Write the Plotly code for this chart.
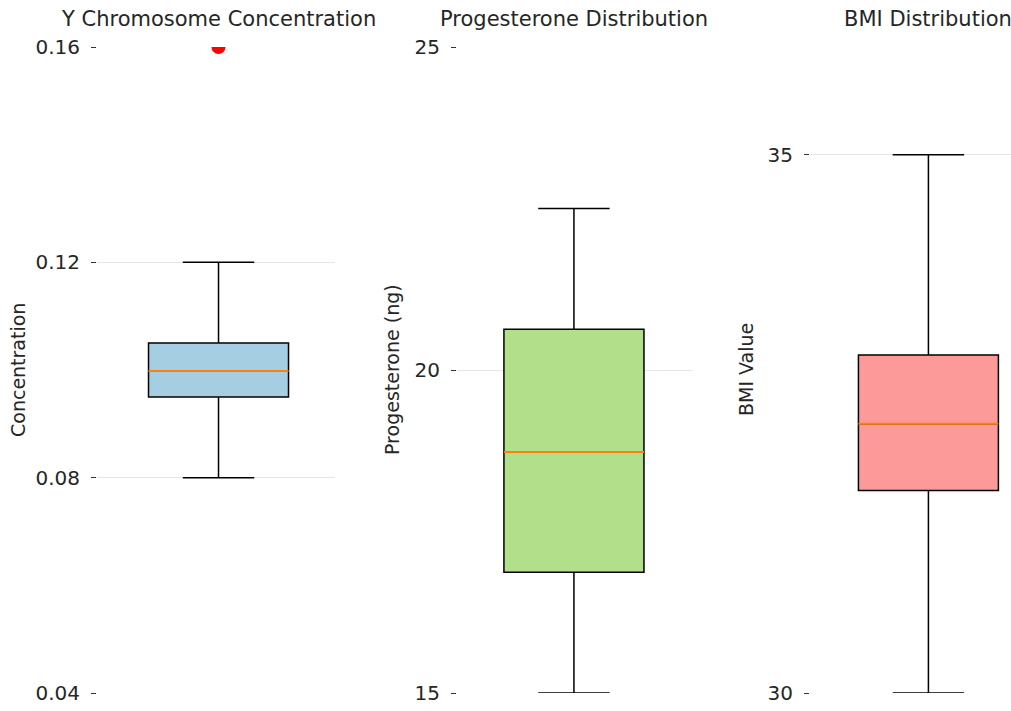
import plotly.graph_objects as go

# Summary statistics for each distribution
panels = ["Y Chromosome Concentration", "Progesterone Distribution", "BMI Distribution"]
axis_labels = ["Concentration", "Progesterone (ng)", "BMI Value"]
lower_whisker = [0.08, 15.0, 30.0]
q1_values = [0.095, 16.87, 31.88]
median_values = [0.0998, 18.73, 32.5]
q3_values = [0.105, 20.63, 33.14]
upper_whisker = [0.12, 22.5, 35.0]
outliers = [[0.16], [], []]

y_ranges = [[0.04, 0.16], [15, 25], [30, 36]]
y_ticks = [[0.04, 0.08, 0.12, 0.16], [15, 20, 25], [30, 35]]
y_ticktext = [["0.04", "0.08", "0.12", "0.16"], ["15", "20", "25"], ["30", "35"]]
fill_colors = ["#a6cee3", "#b2df8a", "#fb9a99"]

W, H = 1011, 711
x_domains = [[97 / W, 335 / W], [457 / W, 692 / W], [810 / W, 1.0]]
x_ranges = [[-0.868, 0.832], [-0.835, 0.843], [-0.846, 0.59]]
label_x = [18, 392, 746]

fig = go.Figure()
for i in range(3):
    xa = "x" if i == 0 else f"x{i + 1}"
    ya = "y" if i == 0 else f"y{i + 1}"
    fig.add_trace(go.Box(
        x=[0], q1=[q1_values[i]], median=[median_values[i]], q3=[q3_values[i]],
        lowerfence=[lower_whisker[i]], upperfence=[upper_whisker[i]],
        width=1, whiskerwidth=0.51, fillcolor=fill_colors[i],
        line=dict(color="black", width=1.5), boxpoints=False,
        xaxis=xa, yaxis=ya, showlegend=False, hoverinfo="skip",
    ))
    # median drawn in orange over the box
    fig.add_trace(go.Scatter(
        x=[-0.5, 0.5], y=[median_values[i], median_values[i]], mode="lines",
        line=dict(color="#ff7f0e", width=2), xaxis=xa, yaxis=ya,
        showlegend=False, hoverinfo="skip",
    ))
    if outliers[i]:
        fig.add_trace(go.Scatter(
            x=[0] * len(outliers[i]), y=outliers[i], mode="markers",
            marker=dict(color="red", size=14, line=dict(width=0)),
            cliponaxis=True, xaxis=xa, yaxis=ya, showlegend=False, hoverinfo="skip",
        ))

    sfx = "" if i == 0 else str(i + 1)
    fig.layout["xaxis" + sfx] = dict(
        domain=x_domains[i], range=x_ranges[i], showgrid=False, zeroline=False,
        showline=False, showticklabels=False, ticks="", anchor=ya, fixedrange=True,
    )
    fig.layout["yaxis" + sfx] = dict(
        domain=[0, 1], range=y_ranges[i], tickvals=y_ticks[i], ticktext=y_ticktext[i],
        showgrid=True, gridcolor="#e6e6e6", gridwidth=1, zeroline=False, showline=False,
        ticks="outside", ticklen=5, tickwidth=1, tickcolor="#333333",
        ticklabelstandoff=7,
        tickfont=dict(family="DejaVu Sans", size=20, color="#262626"),
        anchor=xa, fixedrange=True,
    )
    cx = (x_domains[i][0] * W + (0 - x_ranges[i][0]) / (x_ranges[i][1] - x_ranges[i][0])
          * (x_domains[i][1] - x_domains[i][0]) * W) / W
    fig.add_annotation(
        text=panels[i], x=cx, y=19, xref="paper", yref="paper",
        showarrow=False, font=dict(family="DejaVu Sans", size=21, color="#262626"),
        xanchor="center", yanchor="middle",
    )
    fig.add_annotation(
        text=axis_labels[i], x=label_x[i] / W, y=0.5, xref="paper", yref="paper",
        textangle=-90, showarrow=False,
        font=dict(family="DejaVu Sans", size=19, color="#262626"),
        xanchor="center", yanchor="middle",
    )

# place titles in the top margin, measured in pixels
plot_h = 693 - 47
for ann in fig.layout.annotations:
    if ann.y == 19:
        ann.y = 1 + (47 - 19) / plot_h

fig.update_layout(
    width=W, height=H,
    margin=dict(l=0, r=0, t=47, b=H - 693),
    paper_bgcolor="white", plot_bgcolor="white",
)

fig.write_html("out.html")
